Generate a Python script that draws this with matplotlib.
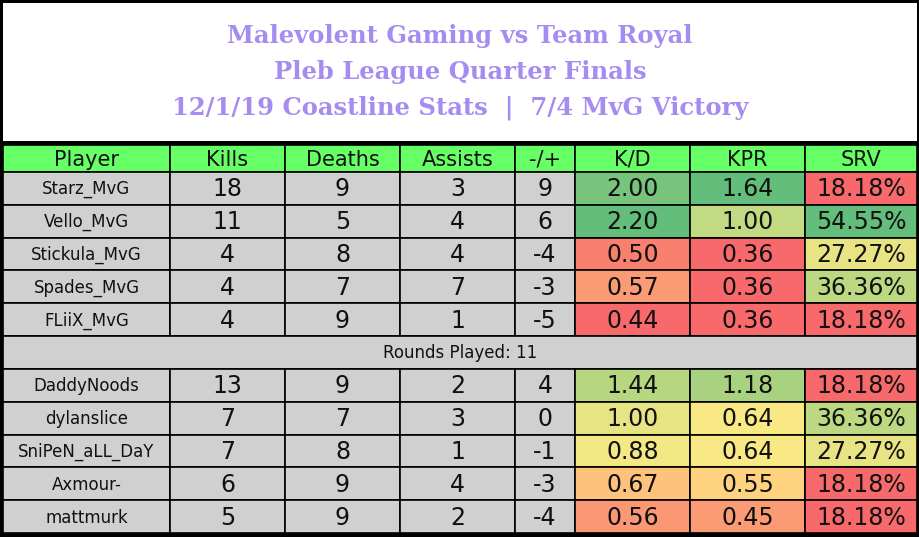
import matplotlib
matplotlib.use("Agg")
import matplotlib.pyplot as plt
from matplotlib.patches import Rectangle
from matplotlib.colors import LinearSegmentedColormap
import numpy as np

title_lines = ["Malevolent Gaming vs Team Royal", "Pleb League Quarter Finals",
               "12/1/19 Coastline Stats  |  7/4 MvG Victory"]
headers = ["Player", "Kills", "Deaths", "Assists", "-/+", "K/D", "KPR", "SRV"]
players = ["Starz_MvG", "Vello_MvG", "Stickula_MvG", "Spades_MvG", "FLiiX_MvG",
           "DaddyNoods", "dylanslice", "SniPeN_aLL_DaY", "Axmour-", "mattmurk"]
kills = [18, 11, 4, 4, 4, 13, 7, 7, 6, 5]
deaths = [9, 5, 8, 7, 9, 9, 7, 8, 9, 9]
assists = [3, 4, 4, 7, 1, 2, 3, 1, 4, 2]
plusminus = [9, 6, -4, -3, -5, 4, 0, -1, -3, -4]
kd = [2.00, 2.20, 0.50, 0.57, 0.44, 1.44, 1.00, 0.88, 0.67, 0.56]
kpr = [1.64, 1.00, 0.36, 0.36, 0.36, 1.18, 0.64, 0.64, 0.55, 0.45]
srv = [18.18, 54.55, 27.27, 36.36, 18.18, 18.18, 36.36, 27.27, 18.18, 18.18]
rounds_label = "Rounds Played: 11"

W, H = 920, 537
fig = plt.figure(figsize=(9.2, 5.37), dpi=100)
ax = fig.add_axes([0, 0, 1, 1])
ax.set_xlim(0, W); ax.set_ylim(H, 0); ax.axis("off")
ax.add_patch(Rectangle((0, 0), W, H, facecolor="black"))
ax.add_patch(Rectangle((3, 3), W - 6, 138, facecolor="white"))
for i, t in enumerate(title_lines):
    ax.text(W / 2, 36 + i * 36, t, ha="center", va="center", fontsize=17.5,
            fontweight="bold", family="DejaVu Serif", color="#a68cf0")

xe = [3, 170, 285, 400, 515, 575, 690, 805, 917]
fam = ["Liberation Sans Narrow", "DejaVu Sans"]
cmap = LinearSegmentedColormap.from_list("rg", ["#f8696b", "#ffeb84", "#63be7b"])

def col_color(vals, v):
    lo, hi, mid = min(vals), max(vals), np.percentile(vals, 50)
    if v <= mid:
        f = 0.5 * (v - lo) / (mid - lo) if mid > lo else 0.5
    else:
        f = 0.5 + 0.5 * (v - mid) / (hi - mid)
    return cmap(f)

def cell(x0, x1, y0, y1, fc, txt, fs):
    ax.add_patch(Rectangle((x0, y0), x1 - x0, y1 - y0, facecolor=fc,
                           edgecolor="black", linewidth=1.2))
    ax.text((x0 + x1) / 2, (y0 + y1) / 2 + 1, txt, ha="center", va="center",
            fontsize=fs, family=fam, color="#111111")

hy0, hy1 = 145, 172
for j, h in enumerate(headers):
    cell(xe[j], xe[j + 1], hy0, hy1, "#66ff66", h, 15)

rh = (533 - hy1) / 11
r = 0
for i, p in enumerate(players):
    if i == 5:
        y0 = hy1 + r * rh
        cell(xe[0], xe[-1], y0, y0 + rh, "#d0d0d0", rounds_label, 12)
        r += 1
    y0 = hy1 + r * rh; y1 = y0 + rh
    cell(xe[0], xe[1], y0, y1, "#d0d0d0", p, 12)
    for j, v in enumerate([kills[i], deaths[i], assists[i], plusminus[i]]):
        cell(xe[j + 1], xe[j + 2], y0, y1, "#d0d0d0", str(v), 17)
    cell(xe[5], xe[6], y0, y1, col_color(kd, kd[i]), f"{kd[i]:.2f}", 17)
    cell(xe[6], xe[7], y0, y1, col_color(kpr, kpr[i]), f"{kpr[i]:.2f}", 17)
    cell(xe[7], xe[8], y0, y1, col_color(srv, srv[i]), f"{srv[i]:.2f}%", 17)
    r += 1

fig.savefig("out.png", dpi=100)
